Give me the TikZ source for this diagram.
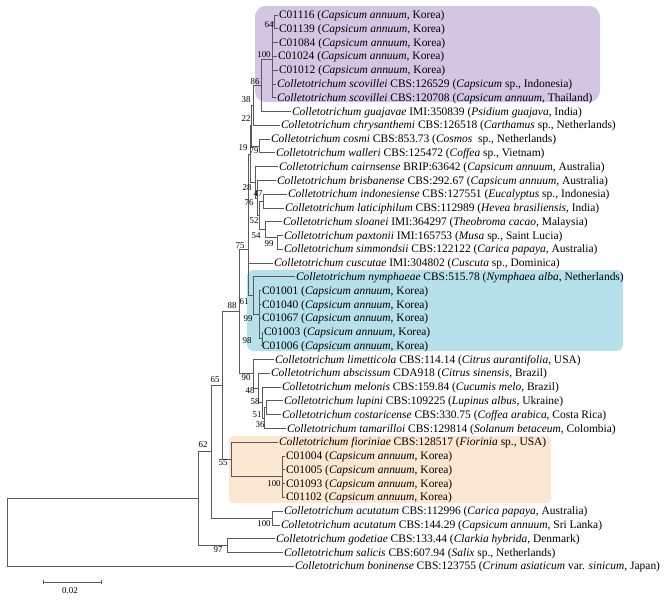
\documentclass[tikz,border=0pt]{standalone}
\usepackage{fontspec}
\setmainfont{Liberation Serif}
\usetikzlibrary{arrows.meta}
\definecolor{treegray}{RGB}{90,90,90}
\definecolor{purplebox}{RGB}{210,198,227}
\definecolor{cyanbox}{RGB}{182,225,235}
\definecolor{orangebox}{RGB}{252,232,210}
\begin{document}
\begin{tikzpicture}[x=0.75pt,y=-0.75pt,
  leaf/.style={anchor=west,inner sep=0.6pt,font=\fontsize{8.6}{10}\selectfont,text height=1.6ex,text depth=0.4ex},
  boot/.style={inner sep=0pt,font=\fontsize{6.7}{7}\selectfont},
  branch/.style={draw=treegray,line width=0.55pt}]
\useasboundingbox (0,0) rectangle (665,601);
% clade boxes
\fill[purplebox,rounded corners=8pt] (255,6) rectangle (600,102);
\fill[cyanbox,rounded corners=5pt] (247,270) rectangle (623,351);
\fill[orangebox,rounded corners=3pt] (229,436) rectangle (551,503);
% taxa
\node[leaf] (l1) at (278,15.0) {C01116 (\textit{Capsicum annuum}, Korea)};
\node[leaf] (l2) at (278,28.8) {C01139 (\textit{Capsicum annuum,} Korea)};
\node[leaf] (l3) at (278,42.6) {C01084 (\textit{Capsicum annuum,} Korea)};
\node[leaf] (l4) at (277,56.3) {C01024 (\textit{Capsicum annuum}, Korea)};
\node[leaf] (l5) at (278,70.1) {C01012 (\textit{Capsicum annuum}, Korea)};
\node[leaf] (l6) at (276,83.9) {\textit{Colletotrichum scovillei} CBS:126529 (\textit{Capsicum} sp., Indonesia)};
\node[leaf] (l7) at (276,97.7) {\textit{Colletotrichum scovillei} CBS:120708 (\textit{Capsicum annuum}, Thailand)};
\node[leaf] (l8) at (291,111.5) {\textit{Colletotrichum guajavae} IMI:350839 (\textit{Psidium guajava,} India)};
\node[leaf] (l9) at (280,125.2) {\textit{Colletotrichum chrysanthemi} CBS:126518 (\textit{Carthamus} sp., Netherlands)};
\node[leaf] (l10) at (270,139.0) {\textit{Colletotrichum cosmi} CBS:853.73 (\textit{Cosmos}\ \ sp., Netherlands)};
\node[leaf] (l11) at (275,152.8) {\textit{Colletotrichum walleri} CBS:125472 (\textit{Coffea} sp., Vietnam)};
\node[leaf] (l12) at (278,166.6) {\textit{Colletotrichum cairnsense} BRIP:63642 (\textit{Capsicum annuum}, Australia)};
\node[leaf] (l13) at (276,180.4) {\textit{Colletotrichum brisbanense} CBS:292.67 (\textit{Capsicum annuum}, Australia)};
\node[leaf] (l14) at (287,194.1) {\textit{Colletotrichum indonesiense} CBS:127551 (\textit{Eucalyptus} sp., Indonesia)};
\node[leaf] (l15) at (284,207.9) {\textit{Colletotrichum laticiphilum} CBS:112989 (\textit{Hevea brasiliensis}, India)};
\node[leaf] (l16) at (282,221.7) {\textit{Colletotrichum sloanei} IMI:364297 (\textit{Theobroma cacao}, Malaysia)};
\node[leaf] (l17) at (283,235.5) {\textit{Colletotrichum paxtonii} IMI:165753 (\textit{Musa} sp., Saint Lucia)};
\node[leaf] (l18) at (283,249.3) {\textit{Colletotrichum simmondsii} CBS:122122 (\textit{Carica papaya,} Australia)};
\node[leaf] (l19) at (273,263.0) {\textit{Colletotrichum cuscutae} IMI:304802 (\textit{Cuscuta} sp., Dominica)};
\node[leaf] (l20) at (295,276.8) {\textit{Colletotrichum nymphaeae} CBS:515.78 (\textit{Nymphaea alba}, Netherlands)};
\node[leaf] (l21) at (261,290.6) {C01001 (\textit{Capsicum annuum}, Korea)};
\node[leaf] (l22) at (261,304.4) {C01040 (\textit{Capsicum annuum}, Korea)};
\node[leaf] (l23) at (261,318.2) {C01067 (\textit{Capsicum annuum}, Korea)};
\node[leaf] (l24) at (263,331.9) {C01003 (\textit{Capsicum annuum}, Korea)};
\node[leaf] (l25) at (261,345.7) {C01006 (\textit{Capsicum annuum}, Korea)};
\node[leaf] (l26) at (274,359.5) {\textit{Colletotrichum limetticola} CBS:114.14 (\textit{Citrus aurantifolia}, USA)};
\node[leaf] (l27) at (270,373.3) {\textit{Colletotrichum abscissum} CDA918 (\textit{Citrus sinensis}, Brazil)};
\node[leaf] (l28) at (281,387.1) {\textit{Colletotrichum melonis} CBS:159.84 (\textit{Cucumis melo,} Brazil)};
\node[leaf] (l29) at (283,400.8) {\textit{Colletotrichum lupini} CBS:109225 (\textit{Lupinus albus}, Ukraine)};
\node[leaf] (l30) at (281,414.6) {\textit{Colletotrichum costaricense} CBS:330.75 (\textit{Coffea arabica}, Costa Rica)};
\node[leaf] (l31) at (286,428.4) {\textit{Colletotrichum tamarilloi} CBS:129814 (\textit{Solanum betaceum}, Colombia)};
\node[leaf] (l32) at (278,442.2) {\textit{Colletotrichum fioriniae} CBS:128517 (\textit{Fiorinia} sp., USA)};
\node[leaf] (l33) at (285,456.0) {C01004 (\textit{Capsicum annuum}, Korea)};
\node[leaf] (l34) at (285,469.8) {C01005 (\textit{Capsicum annuum}, Korea)};
\node[leaf] (l35) at (285,483.5) {C01093 (\textit{Capsicum annuum,} Korea)};
\node[leaf] (l36) at (285,497.3) {C01102 (\textit{Capsicum annuum,} Korea)};
\node[leaf] (l37) at (283,511.1) {\textit{Colletotrichum acutatum} CBS:112996 (\textit{Carica papaya,} Australia)};
\node[leaf] (l38) at (280,524.9) {\textit{Colletotrichum acutatum} CBS:144.29 (\textit{Capsicum annuum}, Sri Lanka)};
\node[leaf] (l39) at (275,538.7) {\textit{Colletotrichum godetiae} CBS:133.44 (\textit{Clarkia hybrida}, Denmark)};
\node[leaf] (l40) at (283,552.4) {\textit{Colletotrichum salicis} CBS:607.94 (\textit{Salix} sp., Netherlands)};
\node[leaf] (l41) at (294,566.2) {\textit{Colletotrichum boninense} CBS:123755 (\textit{Crinum asiaticum} var. \textit{sinicum}, Japan)};
% internal nodes
\coordinate (n64) at (274,21.9);
\coordinate (n100a) at (272,59.8);
\coordinate (n86) at (261,85.6);
\coordinate (n38) at (253,105.4);
\coordinate (n79) at (259,145.9);
\coordinate (n22) at (251,125.7);
\coordinate (n47) at (263,201.0);
\coordinate (n99a) at (277,237.5);
\coordinate (n54) at (265,229.6);
\coordinate (n52) at (259,215.3);
\coordinate (n76) at (257,197.9);
\coordinate (n28) at (255,182.2);
\coordinate (n19) at (250,154.0);
\coordinate (n98) at (262,338.8);
\coordinate (n99b) at (259,314.7);
\coordinate (n61) at (253,295.8);
\coordinate (n75) at (248,249.0);
\coordinate (n51) at (266,407.7);
\coordinate (n36) at (264,418.0);
\coordinate (n58) at (262,402.6);
\coordinate (n48) at (258,388.0);
\coordinate (n90) at (253,373.7);
\coordinate (n88) at (239,311.4);
\coordinate (n100b) at (282,476.6);
\coordinate (n55) at (231,459.4);
\coordinate (n65) at (222,385.4);
\coordinate (n100c) at (272,518.0);
\coordinate (n62) at (211,451.7);
\coordinate (n97) at (227,545.6);
\coordinate (nin) at (198,498.6);
\coordinate (root) at (7,532.4);
% branches
\draw[branch] (n64) |- (l1.west) (n64) |- (l2.west);
\draw[branch] (n100a) |- (n64) (n100a) |- (l3.west) (n100a) |- (l4.west) (n100a) |- (l5.west) (n100a) |- (l6.west) (n100a) |- (l7.west);
\draw[branch] (n86) |- (n100a) (n86) |- (l8.west);
\draw[branch] (n38) |- (n86) (n38) |- (l9.west);
\draw[branch] (n79) |- (l10.west) (n79) |- (l11.west);
\draw[branch] (n22) |- (n38) (n22) |- (n79);
\draw[branch] (n47) |- (l14.west) (n47) |- (l15.west);
\draw[branch] (n99a) |- (l17.west) (n99a) |- (l18.west);
\draw[branch] (n54) |- (l16.west) (n54) |- (n99a);
\draw[branch] (n52) |- (n47) (n52) |- (n54);
\draw[branch] (n76) |- (l13.west) (n76) |- (n52);
\draw[branch] (n28) |- (l12.west) (n28) |- (n76);
\draw[branch] (n19) |- (n22) (n19) |- (n28);
\draw[branch] (n98) |- (l24.west) (n98) |- (l25.west);
\draw[branch] (n99b) |- (l21.west) (n99b) |- (l22.west) (n99b) |- (l23.west) (n99b) |- (n98);
\draw[branch] (n61) |- (l20.west) (n61) |- (n99b);
\draw[branch] (n75) |- (n19) (n75) |- (l19.west) (n75) |- (n61);
\draw[branch] (n51) |- (l29.west) (n51) |- (l30.west);
\draw[branch] (n36) |- (n51) (n36) |- (l31.west);
\draw[branch] (n58) |- (l28.west) (n58) |- (n36);
\draw[branch] (n48) |- (l27.west) (n48) |- (n58);
\draw[branch] (n90) |- (l26.west) (n90) |- (n48);
\draw[branch] (n88) |- (n75) (n88) |- (n90);
\draw[branch] (n100b) |- (l33.west) (n100b) |- (l34.west) (n100b) |- (l35.west) (n100b) |- (l36.west);
\draw[branch] (n55) |- (l32.west) (n55) |- (n100b);
\draw[branch] (n65) |- (n88) (n65) |- (n55);
\draw[branch] (n100c) |- (l37.west) (n100c) |- (l38.west);
\draw[branch] (n62) |- (n65) (n62) |- (n100c);
\draw[branch] (n97) |- (l39.west) (n97) |- (l40.west);
\draw[branch] (nin) |- (n62) (nin) |- (n97);
\draw[branch] (root) |- (nin) (root) |- (l41.west);
% bootstrap values
\node[boot] (b64) at (269,25) {64};
\node[boot] (b100a) at (264,55) {100};
\node[boot] (b86) at (255,82) {86};
\node[boot] (b38) at (246,100) {38};
\node[boot] (b22) at (246,119) {22};
\node[boot] (b19) at (243,148) {19};
\node[boot] (b79) at (254,151) {79};
\node[boot] (b28) at (247,188) {28};
\node[boot] (b47) at (258,194) {47};
\node[boot] (b76) at (249,203) {76};
\node[boot] (b52) at (254,221) {52};
\node[boot] (b54) at (256,236) {54};
\node[boot] (b99a) at (269,244) {99};
\node[boot] (b75) at (240,245.5) {75};
\node[boot] (b61) at (244,302) {61};
\node[boot] (b88) at (232,306) {88};
\node[boot] (b99b) at (248,319) {99};
\node[boot] (b98) at (247,341) {98};
\node[boot] (b90) at (246,378) {90};
\node[boot] (b48) at (250,391) {48};
\node[boot] (b58) at (255,402) {58};
\node[boot] (b51) at (257,415) {51};
\node[boot] (b36) at (260,425) {36};
\node[boot] (b65) at (215,380) {65};
\node[boot] (b62) at (203,445) {62};
\node[boot] (b55) at (223,463) {55};
\node[boot] (b100b) at (274,484) {100};
\node[boot] (b100c) at (264,524) {100};
\node[boot] (b97) at (218,550) {97};
% scale bar
\coordinate (sbl) at (43,582);
\coordinate (sbr) at (102,582);
\draw[branch,{Bar[width=3pt]}-{Bar[width=3pt]}] (sbl) -- (sbr);
\node[boot] (sblab) at (70,591) {0.02};
\end{tikzpicture}
\end{document}
